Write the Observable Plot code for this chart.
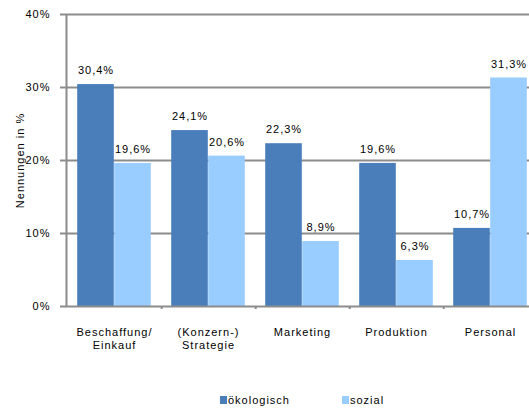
<!DOCTYPE html>
<html>
<head>
<meta charset="utf-8">
<script src="https://cdn.jsdelivr.net/npm/d3@7"></script>
<script src="https://cdn.jsdelivr.net/npm/@observablehq/plot@0.6"></script>
<style>
  body { margin: 0; background: #fff; overflow: hidden; font-family: Arial, "Liberation Sans", sans-serif; }
  #chart { width: 540px; }
  #chart svg { max-width: none !important; width: 540px; height: 390px; display: block; }
  #legend { display: flex; align-items: center; height: 19px; margin-left: 220px; font-size: 11px; letter-spacing: 1px; color: #000; }
  #legend .item { display: flex; align-items: center; }
  #legend .item + .item { margin-left: 52px; }
  #legend .swatch { width: 7px; height: 8px; margin-right: 1px; }
</style>
</head>
<body>
<div id="chart"></div>
<div id="legend"></div>
<script>
// Themenfelder und Anteil der Nennungen je Nachhaltigkeitsdimension
const categories = ["Beschaffung/\nEinkauf", "(Konzern-)\nStrategie", "Marketing", "Produktion", "Personal"];
const series = ["ökologisch", "sozial"];
const oekologisch = [30.4, 24.1, 22.3, 19.6, 10.7];
const sozial = [19.6, 20.6, 8.9, 6.3, 31.3];
const yTicks = [0, 10, 20, 30, 40];
const colors = ["#4a7ebb", "#99ccff"];
const yTitle = "Nennungen in %";

const rows = categories.flatMap((category, i) => [
  {category, series: series[0], value: oekologisch[i]},
  {category, series: series[1], value: sozial[i]}
]);

// geometry
const W = 540, H = 390, ML = 66, MR = 2, MT = 14, MB = 84;
const step = (W - ML - MR) / categories.length;
const barW = 37;
const outer = (step - 2 * barW) / 2;
const grey = "#8c8c8c";
const fmt = v => v.toFixed(1).replace(".", ",") + "%";

const plot = Plot.plot({
  width: W,
  height: H,
  marginLeft: ML,
  marginRight: MR,
  marginTop: MT,
  marginBottom: MB,
  style: {fontFamily: "Arial, 'Liberation Sans', sans-serif", fontSize: "11px", letterSpacing: "1px", background: "white", color: "black", maxWidth: "none"},
  x: {domain: categories, padding: 0, axis: null},
  y: {domain: [0, 40], label: null},
  color: {domain: series, range: colors},
  marks: [
    Plot.gridY(yTicks.slice(1, -1), {stroke: grey, strokeOpacity: 1, strokeWidth: 2}),
    // bars: left slot ökologisch, right slot sozial within each category band
    Plot.barY(rows.filter(d => d.series === series[0]), {
      x: "category", y: "value", fill: "series",
      insetLeft: outer, insetRight: step - outer - barW
    }),
    Plot.barY(rows.filter(d => d.series === series[1]), {
      x: "category", y: "value", fill: "series",
      insetLeft: outer + barW, insetRight: outer
    }),
    Plot.frame({stroke: grey, strokeWidth: 2}),
    // small ticks on the category axis between groups
    Plot.ruleX(categories, {x: d => d, dx: step / 2, y1: 0, y2: 0, insetBottom: -3, stroke: grey, strokeWidth: 2}),
    Plot.axisY(yTicks, {
      tickFormat: d => d + "%", tickSize: 6, tickPadding: 10,
      stroke: grey, strokeWidth: 2, fill: "black", label: null
    }),
    // value labels
    Plot.text(rows.filter(d => d.series === series[0]), {
      x: "category", y: "value", text: d => fmt(d.value),
      dx: -barW / 2, dy: -14, lineAnchor: "middle", fill: "black"
    }),
    Plot.text(rows.filter(d => d.series === series[1]), {
      x: "category", y: "value", text: d => fmt(d.value),
      dx: barW / 2, dy: -14, lineAnchor: "middle", fill: "black"
    }),
    // category labels
    Plot.text(categories, {
      x: d => d, text: d => d, frameAnchor: "bottom",
      dy: 21, lineAnchor: "top", lineHeight: 1.15, fill: "black"
    }),
    // y-axis title
    Plot.text([yTitle], {
      text: d => d, frameAnchor: "left", textAnchor: "middle", dx: -46, rotate: -90, fill: "black"
    })
  ]
});

document.getElementById("chart").appendChild(plot);

// legend below the chart
const legend = d3.select("#legend");
series.forEach((s, i) => {
  const item = legend.append("span").attr("class", "item");
  item.append("span").attr("class", "swatch").style("background", colors[i]);
  item.append("span").text(s);
});
</script>
</body>
</html>
